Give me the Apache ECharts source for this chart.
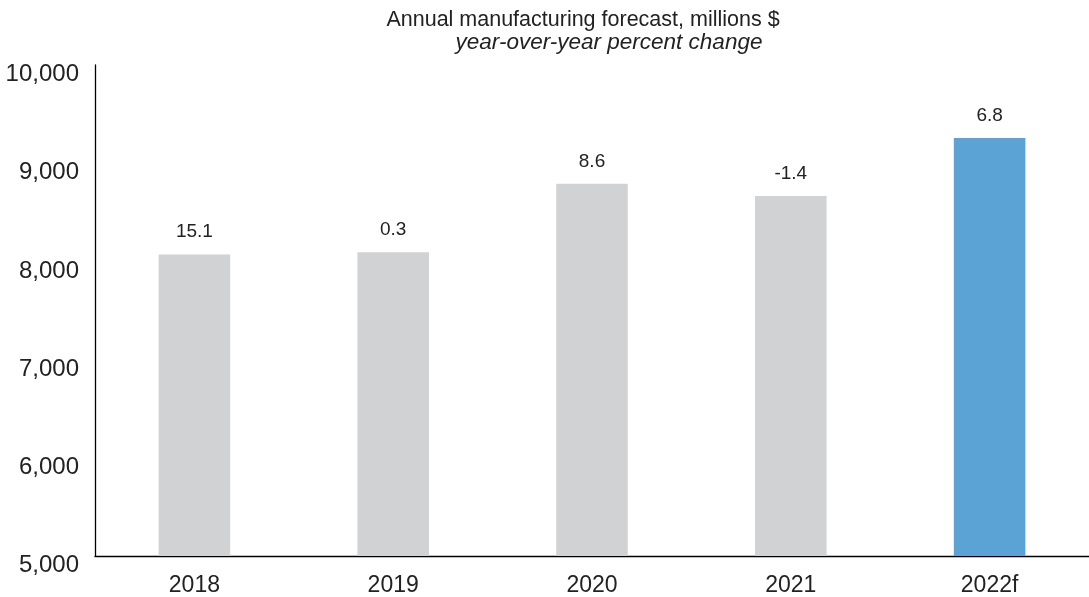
<!DOCTYPE html>
<html>
<head>
<meta charset="utf-8">
<style>
  html, body { margin: 0; padding: 0; background: #fff; }
  #chart { width: 1089px; height: 597px; }
</style>
<script src="https://cdn.jsdelivr.net/npm/echarts@6/dist/echarts.min.js"></script>
</head>
<body>
<div id="chart"></div>
<script>
// Annual manufacturing output (millions $) with year-over-year change labels
const years = ['2018', '2019', '2020', '2021', '2022f'];
const output = [8070, 8094, 8790, 8667, 9256];
const yoyChange = ['15.1', '0.3', '8.6', '-1.4', '6.8'];
const yTicks = [5000, 6000, 7000, 8000, 9000, 10000];

const GRAY = '#d1d2d4';
const BLUE = '#5ba3d4';
const TEXT = '#222222';
const FONT = '"Liberation Sans", Arial, sans-serif';

const chart = echarts.init(document.getElementById('chart'), null, { renderer: 'canvas' });

chart.setOption({
  animation: false,
  textStyle: { fontFamily: FONT, color: TEXT },
  title: [
    {
      text: 'Annual manufacturing forecast, millions $',
      left: 583, top: 9, textAlign: 'center', padding: 0,
      textStyle: { fontSize: 21.5, fontWeight: 'normal', color: TEXT, fontFamily: FONT }
    },
    {
      text: 'year-over-year percent change',
      left: 609, top: 31, textAlign: 'center', padding: 0,
      textStyle: { fontSize: 22.5, fontWeight: 'normal', fontStyle: 'italic', color: TEXT, fontFamily: FONT }
    }
  ],
  grid: { left: 95, right: -3, top: 65, bottom: 37, containLabel: false },
  xAxis: {
    type: 'category',
    data: years,
    axisLine: { show: true, lineStyle: { color: '#000', width: 1.3 } },
    axisTick: { show: false },
    axisLabel: { fontSize: 23, color: TEXT, margin: 18, fontFamily: FONT }
  },
  yAxis: {
    type: 'value',
    min: yTicks[0],
    max: yTicks[yTicks.length - 1],
    interval: 1000,
    axisLine: { show: true, lineStyle: { color: '#000', width: 1.3 } },
    axisTick: { show: false },
    splitLine: { show: false },
    axisLabel: {
      fontSize: 24, color: TEXT, margin: 16, fontFamily: FONT,
      verticalAlign: 'top', lineHeight: 19,
      formatter: v => v.toLocaleString('en-US')
    }
  },
  series: [{
    type: 'bar',
    data: output.map((v, i) => ({
      value: v,
      itemStyle: { color: i === output.length - 1 ? BLUE : GRAY }
    })),
    barWidth: '36%',
    label: {
      show: true,
      position: 'top',
      distance: 13,
      fontSize: 19,
      color: TEXT,
      fontFamily: FONT,
      formatter: p => yoyChange[p.dataIndex]
    }
  }]
});
</script>
</body>
</html>
